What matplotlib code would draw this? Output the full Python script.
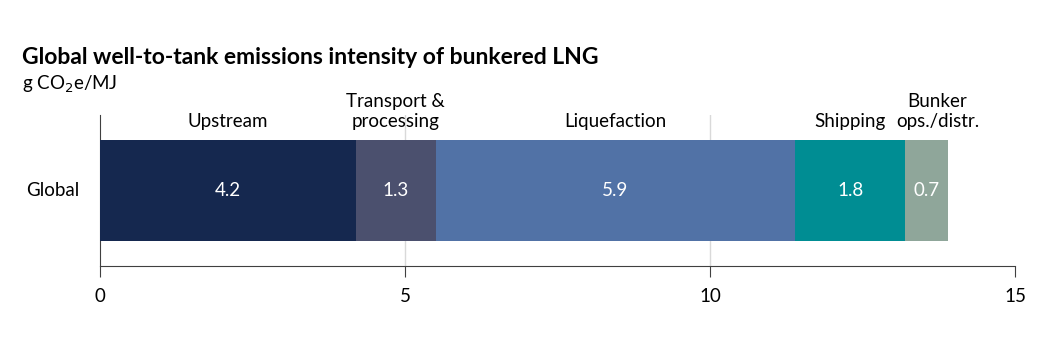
import numpy as np
import matplotlib.pyplot as plt

plt.rcParams['font.family'] = ['Lato', 'DejaVu Sans']

# Data
segments = ['Upstream', 'Transport &\nprocessing', 'Liquefaction', 'Shipping', 'Bunker\nops./distr.']
values = [4.2, 1.3, 5.9, 1.8, 0.7]
colors = ['#15284f', '#4b506e', '#5172a6', '#008d93', '#8fa69a']
region = 'Global'
xticks = [0, 5, 10, 15]

fig = plt.figure(figsize=(10.63, 3.54), dpi=100)
ax = fig.add_axes([100/1063, 1-266/354, 915/1063, 151/354])

left = 0
for name, val, col in zip(segments, values, colors):
    ax.barh(0, val, left=left, height=0.675, color=col, zorder=3)
    cx = left + val / 2
    ax.text(cx, 0, f'{val:.1f}', ha='center', va='center', color='white', fontsize=13.5, zorder=4)
    dx = 0.18 if name.startswith('Bunker') else 0
    ax.text(cx + dx, 0.40, name, ha='center', va='bottom', color='black', fontsize=13.5,
            linespacing=1.2, zorder=4)
    left += val

ax.set_xlim(0, 15)
ax.set_ylim(-0.5, 0.5)
ax.set_xticks(xticks)
ax.set_xticklabels([str(t) for t in xticks], fontsize=13.5)
ax.set_yticks([])

# Vertical gridlines
for t in [5, 10]:
    ax.axvline(t, color='#d9d9d9', linewidth=1, zorder=1)

for s in ['top', 'right']:
    ax.spines[s].set_visible(False)
ax.spines['left'].set_color('#404040')
ax.spines['bottom'].set_color('#404040')
ax.tick_params(axis='x', length=8, color='#404040', pad=8)

fig.text(53/1063, 1-191/354, region, ha='center', va='center', fontsize=13.5)
fig.text(22/1063, 1-58/354, 'Global well-to-tank emissions intensity of bunkered LNG',
         fontsize=16.5, fontweight='bold', va='center', ha='left')
fig.text(22/1063, 1-84/354, r'g CO$_2$e/MJ', fontsize=13.5, va='center', ha='left')

plt.savefig('out.png', dpi=100)
